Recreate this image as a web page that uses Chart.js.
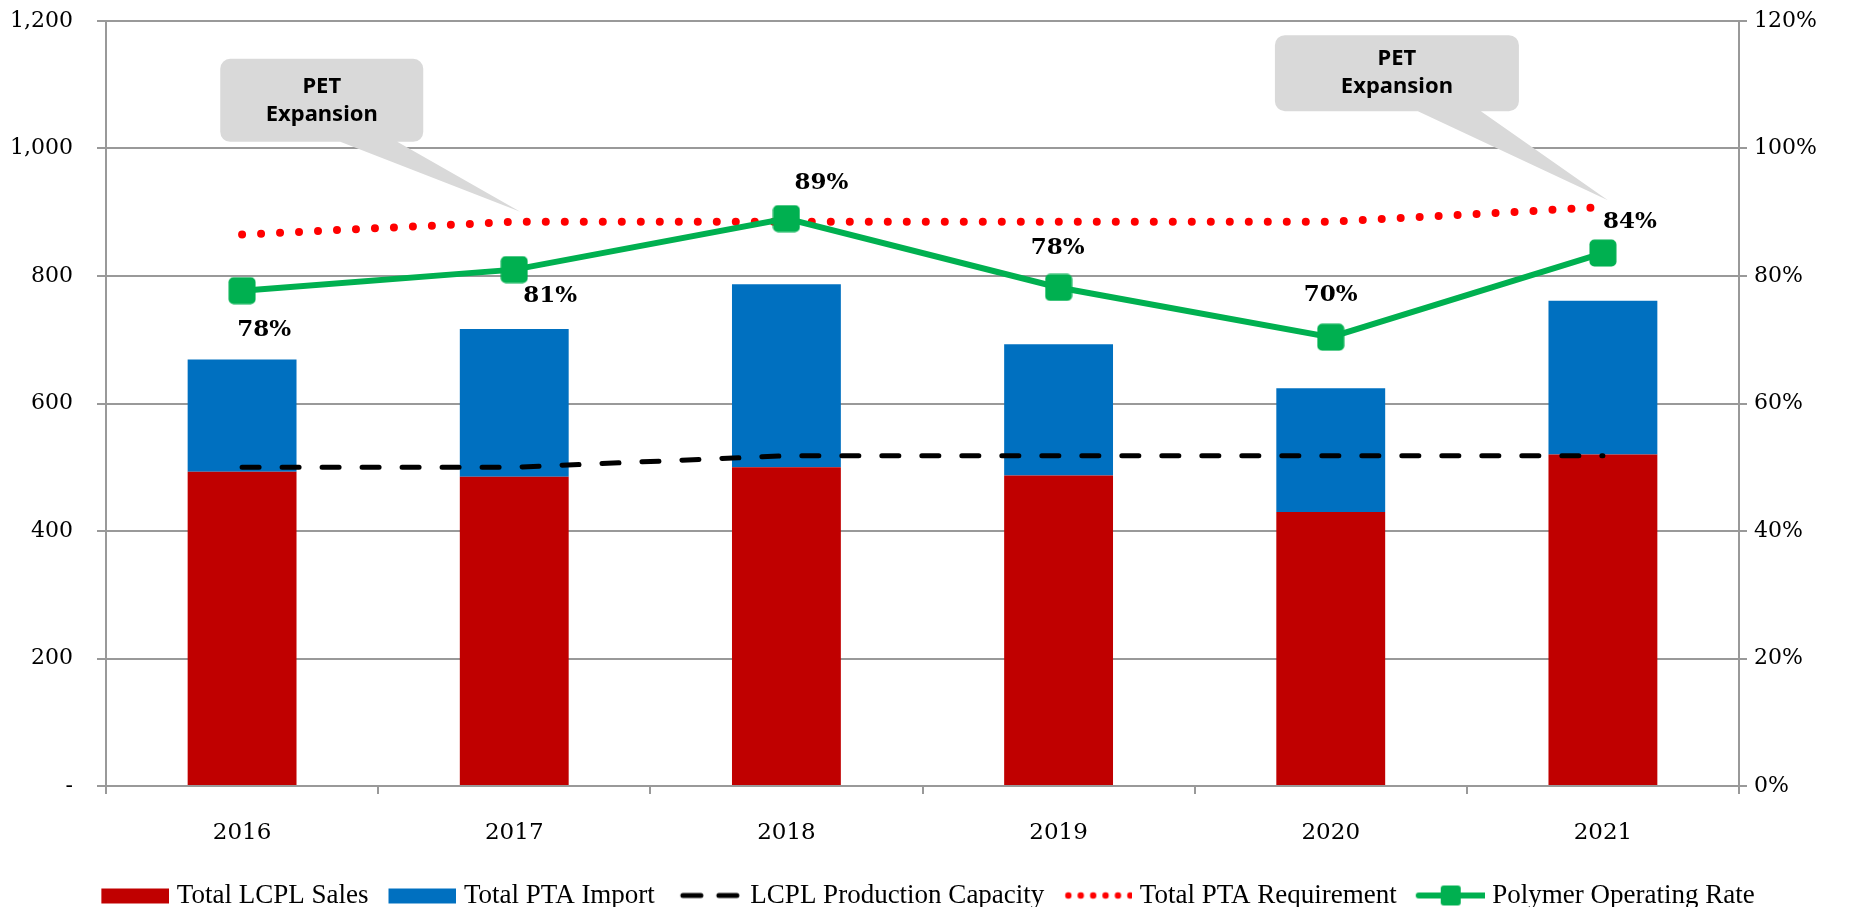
<!DOCTYPE html>
<html><head><meta charset="utf-8">
<script src="https://cdn.jsdelivr.net/npm/chart.js@4/dist/chart.umd.min.js"></script>
<style>html,body{margin:0;padding:0;background:#fff;overflow:hidden}</style>
</head><body>
<canvas id="c" width="1850" height="907" style="display:block;width:1850px;height:907px"></canvas>
<script>
// ---- data ----
const years = ['2016', '2017', '2018', '2019', '2020', '2021'];
const lcplSales = [493, 485, 500, 487, 430, 520];
const ptaImport = [176, 232, 287, 206, 194, 241];
const lcplCapacity = [500, 500, 518, 518, 518, 518];
const ptaRequirement = [865, 885, 885, 885, 885, 908];
const polymerRate = [77.7, 81.0, 89.0, 78.2, 70.4, 83.6];
const leftTickLabels = ['-', '200', '400', '600', '800', '1,000', '1,200'];
const rightTickLabels = ['0%', '20%', '40%', '60%', '80%', '100%', '120%'];
const seriesNames = ['Total LCPL Sales', 'Total PTA Import', 'LCPL Production Capacity', 'Total PTA Requirement', 'Polymer Operating Rate'];
const calloutLines = ['PET', 'Expansion'];

// ---- styles ----
const RED = '#C00000', BLUE = '#0070C0', GREEN = '#00B050', DOTRED = '#FF0000';
const GRID = '#999999';
const TICKFONT = {family: '"DejaVu Serif", serif', size: 22};
const XTICKFONT = {family: '"DejaVu Serif", serif', size: 23};

function mk(w, h, fn) { const c = document.createElement('canvas'); c.width = w; c.height = h; fn(c.getContext('2d')); return c; }
function rr(g, x, y, w, h, r) { g.beginPath(); g.moveTo(x + r, y); g.arcTo(x + w, y, x + w, y + h, r); g.arcTo(x + w, y + h, x, y + h, r); g.arcTo(x, y + h, x, y, r); g.arcTo(x, y, x + w, y, r); g.closePath(); }

const marker = mk(28, 28, g => { g.fillStyle = GREEN; rr(g, 0.5, 0.5, 27, 27, 5); g.fill(); });

const legendImgs = [
  mk(80, 28, g => { g.fillStyle = RED; g.fillRect(12, 7, 68, 15); }),
  mk(80, 28, g => { g.fillStyle = BLUE; g.fillRect(12, 7, 68, 15); }),
  mk(80, 28, g => { g.strokeStyle = '#000'; g.lineWidth = 5; g.lineCap = 'round'; g.beginPath(); g.moveTo(20, 14); g.lineTo(38, 14); g.moveTo(56, 14); g.lineTo(74, 14); g.stroke(); }),
  mk(80, 28, g => { g.fillStyle = DOTRED; for (let i = 0; i < 6; i++) { g.beginPath(); g.arc(16 + i * 12.4, 14, 3.2, 0, Math.PI * 2); g.fill(); } }),
  mk(80, 28, g => { g.strokeStyle = GREEN; g.lineWidth = 6; g.lineCap = 'round'; g.beginPath(); g.moveTo(14, 14); g.lineTo(80, 14); g.stroke(); g.fillStyle = GREEN; rr(g, 36, 4, 20, 20, 3); g.fill(); })
];

const rateLabels = {
  id: 'rateLabels',
  afterDatasetsDraw(chart, args, opts) {
    const meta = chart.getDatasetMeta(4);
    const ctx = chart.ctx;
    ctx.save();
    ctx.font = 'bold 23px "DejaVu Serif", serif';
    ctx.fillStyle = '#000';
    ctx.textAlign = 'center';
    ctx.textBaseline = 'middle';
    meta.data.forEach((pt, i) => {
      const o = opts.offsets[i];
      ctx.fillText(Math.round(polymerRate[i]) + '%', pt.x + o[0], pt.y + o[1]);
    });
    ctx.restore();
  }
};

const callouts = {
  id: 'callouts',
  afterDraw(chart, args, opts) {
    const meta = chart.getDatasetMeta(3);
    const ctx = chart.ctx;
    opts.items.forEach(it => {
      const p = meta.data[it.index];
      const tx = p.x + it.tip[0], ty = p.y + it.tip[1];
      const L = tx + it.box[0], R = tx + it.box[1], T = ty + it.box[2], B = ty + it.box[3];
      const r = 10;
      ctx.save();
      ctx.fillStyle = '#D9D9D9';
      ctx.beginPath();
      ctx.moveTo(L + r, T);
      ctx.lineTo(R - r, T); ctx.arcTo(R, T, R, T + r, r);
      ctx.lineTo(R, B - r); ctx.arcTo(R, B, R - r, B, r);
      ctx.lineTo(tx + it.base[1], B);
      ctx.lineTo(tx, ty);
      ctx.lineTo(tx + it.base[0], B);
      ctx.lineTo(L + r, B); ctx.arcTo(L, B, L, B - r, r);
      ctx.lineTo(L, T + r); ctx.arcTo(L, T, L + r, T, r);
      ctx.closePath();
      ctx.fill();
      ctx.fillStyle = '#000';
      ctx.font = 'bold 22px "Noto Sans", sans-serif';
      ctx.textAlign = 'center';
      ctx.textBaseline = 'middle';
      const cx = (L + R) / 2, cy = (T + B) / 2;
      ctx.fillText(calloutLines[0], cx, cy - 14);
      ctx.fillText(calloutLines[1], cx, cy + 14);
      ctx.restore();
    });
  }
};

new Chart(document.getElementById('c'), {
  data: {
    labels: years,
    datasets: [
      {type: 'bar', label: seriesNames[0], data: lcplSales, backgroundColor: RED, stack: 'bars', yAxisID: 'y', order: 10, barPercentage: 0.4, categoryPercentage: 1.0},
      {type: 'bar', label: seriesNames[1], data: ptaImport, backgroundColor: BLUE, stack: 'bars', yAxisID: 'y', order: 10, barPercentage: 0.4, categoryPercentage: 1.0},
      {type: 'line', label: seriesNames[2], data: lcplCapacity, stack: 'cap', borderColor: '#000', borderWidth: 5, borderDash: [17, 23], borderCapStyle: 'round', pointRadius: 0, tension: 0, fill: false, yAxisID: 'y', order: 3},
      {type: 'line', label: seriesNames[3], data: ptaRequirement, stack: 'req', borderColor: DOTRED, borderWidth: 8, borderDash: [0, 19], borderCapStyle: 'round', pointRadius: 0, tension: 0, fill: false, yAxisID: 'y', order: 2},
      {type: 'line', label: seriesNames[4], data: polymerRate, borderColor: GREEN, backgroundColor: GREEN, borderWidth: 6, pointStyle: marker, pointRadius: 13, tension: 0, fill: false, yAxisID: 'y1', order: 1}
    ]
  },
  options: {
    responsive: false,
    animation: false,
    devicePixelRatio: 1,
    layout: {padding: {top: 21, bottom: -12, left: 0, right: 0}},
    scales: {
      x: {
        offset: true,
        grid: {offset: true, drawOnChartArea: false, drawTicks: true, tickLength: 8, color: GRID, lineWidth: 2},
        border: {display: true, color: GRID, width: 2},
        ticks: {font: XTICKFONT, color: '#000', padding: 25, maxRotation: 0},
        afterFit: s => { s.height = 82; s.paddingLeft = 0; s.paddingRight = 0; }
      },
      y: {
        position: 'left', stacked: true, min: 0, max: 1200,
        ticks: {stepSize: 200, callback: (v, i) => leftTickLabels[i], font: TICKFONT, color: '#000', padding: 24},
        grid: {color: GRID, lineWidth: 2, drawTicks: true, tickLength: 9},
        border: {display: true, color: GRID, width: 2},
        afterFit: s => { s.width = 106; s.paddingTop = 0; s.paddingBottom = 0; }
      },
      y1: {
        position: 'right', min: 0, max: 120,
        ticks: {stepSize: 20, callback: (v, i) => rightTickLabels[i], font: TICKFONT, color: '#000', padding: 7},
        grid: {drawOnChartArea: false, drawTicks: true, tickLength: 8, color: GRID, lineWidth: 2},
        border: {display: true, color: GRID, width: 2},
        afterFit: s => { s.width = 111; s.paddingTop = 0; s.paddingBottom = 0; }
      }
    },
    plugins: {
      tooltip: {enabled: false},
      legend: {
        position: 'bottom',
        labels: {
          usePointStyle: true, pointStyleWidth: 68, boxHeight: 15, padding: 14,
          font: {family: '"Liberation Serif", serif', size: 27}, color: '#000',
          generateLabels: chart => chart.data.datasets.map((ds, i) => ({
            text: ds.label, pointStyle: legendImgs[i], datasetIndex: i, hidden: false,
            fillStyle: 'rgba(0,0,0,0)', strokeStyle: 'rgba(0,0,0,0)', lineWidth: 0, fontColor: '#000'
          }))
        }
      },
      rateLabels: {offsets: [[22, 39], [36, 26], [35, -36], [-1, -39], [0, -42], [27, -31]]},
      callouts: {items: [
        {index: 1, tip: [6, -10], box: [-300, -97, -153, -70], base: [-180, -123]},
        {index: 5, tip: [5, -7], box: [-333, -89, -165, -89], base: [-190, -127]}
      ]}
    }
  },
  plugins: [rateLabels, callouts]
});
</script>
</body></html>
